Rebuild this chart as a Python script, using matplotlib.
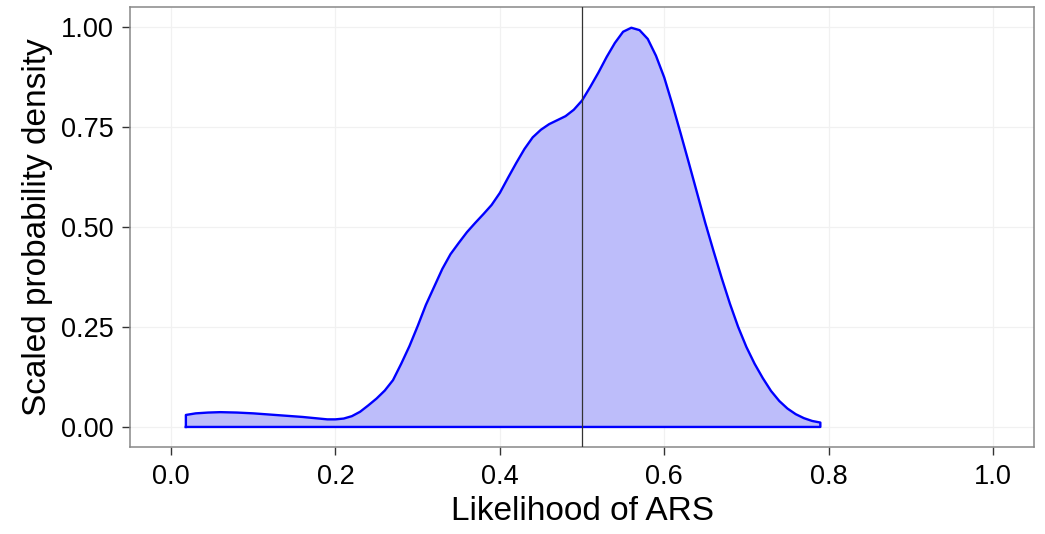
import matplotlib
matplotlib.use('agg')
import matplotlib.pyplot as plt

# density curve (scaled so the peak is 1)
likelihood = [0.018, 0.03, 0.045, 0.06, 0.08, 0.10, 0.12, 0.14, 0.16, 0.18, 0.19, 0.20,
              0.21, 0.22, 0.23, 0.24, 0.25, 0.26, 0.27, 0.28, 0.29, 0.30, 0.31, 0.32,
              0.33, 0.34, 0.35, 0.36, 0.37, 0.38, 0.39, 0.40, 0.41, 0.42, 0.43, 0.44,
              0.45, 0.46, 0.47, 0.48, 0.49, 0.50, 0.51, 0.52, 0.53, 0.54, 0.55, 0.56,
              0.57, 0.58, 0.59, 0.60, 0.61, 0.62, 0.63, 0.64, 0.65, 0.66, 0.67, 0.68,
              0.69, 0.70, 0.71, 0.72, 0.73, 0.74, 0.75, 0.76, 0.77, 0.78, 0.79]
density = [0.030, 0.034, 0.036, 0.037, 0.036, 0.034, 0.031, 0.028, 0.025, 0.021, 0.019, 0.019,
           0.021, 0.027, 0.038, 0.054, 0.071, 0.091, 0.117, 0.158, 0.202, 0.252, 0.305, 0.350,
           0.395, 0.432, 0.460, 0.487, 0.510, 0.532, 0.555, 0.585, 0.623, 0.660, 0.695, 0.724,
           0.743, 0.757, 0.767, 0.777, 0.793, 0.816, 0.850, 0.886, 0.925, 0.960, 0.988, 0.998,
           0.992, 0.970, 0.928, 0.874, 0.806, 0.734, 0.660, 0.585, 0.510, 0.440, 0.372, 0.308,
           0.250, 0.200, 0.158, 0.122, 0.090, 0.065, 0.046, 0.032, 0.022, 0.015, 0.011]
cutoff = 0.5

x_ticks = [0.0, 0.2, 0.4, 0.6, 0.8, 1.0]
x_labels = ["0.0", "0.2", "0.4", "0.6", "0.8", "1.0"]
y_ticks = [0.0, 0.25, 0.5, 0.75, 1.0]
y_labels = ["0.00", "0.25", "0.50", "0.75", "1.00"]

plt.rcParams['font.family'] = ['Liberation Sans', 'DejaVu Sans']

fig = plt.figure(figsize=(10.45, 5.34), dpi=100)
ax = fig.add_axes([0.1244, 0.163, 0.8651, 0.824])

# ggplot-like density polygon: fill plus closed outline
ax.fill_between(likelihood, 0, density, color='#bdbdfa', lw=0, zorder=2)
outline_x = [likelihood[0]] + likelihood + [likelihood[-1], likelihood[0]]
outline_y = [0] + density + [0, 0]
ax.plot(outline_x, outline_y, color='#0000ff', lw=1.7, zorder=3,
        solid_joinstyle='round')

ax.axvline(cutoff, color='#333333', lw=0.9, zorder=4)

ax.set_xlim(-0.05, 1.05)
ax.set_ylim(-0.05, 1.05)
ax.set_xticks(x_ticks)
ax.set_xticklabels(x_labels)
ax.set_yticks(y_ticks)
ax.set_yticklabels(y_labels)
ax.grid(True, color='#f1f1f1', lw=0.9, zorder=0)
ax.set_axisbelow(True)

ax.tick_params(length=5.5, width=1, color='#333333', labelsize=19.5,
               labelcolor='black')
ax.tick_params(axis='x', pad=7)
ax.tick_params(axis='y', pad=6)
for s in ax.spines.values():
    s.set_color('#888888')
    s.set_linewidth(1.1)

ax.set_xlabel("Likelihood of ARS", fontsize=24, labelpad=4)
ax.set_ylabel("Scaled probability density", fontsize=24, labelpad=6)

fig.savefig("out.png", dpi=100)
